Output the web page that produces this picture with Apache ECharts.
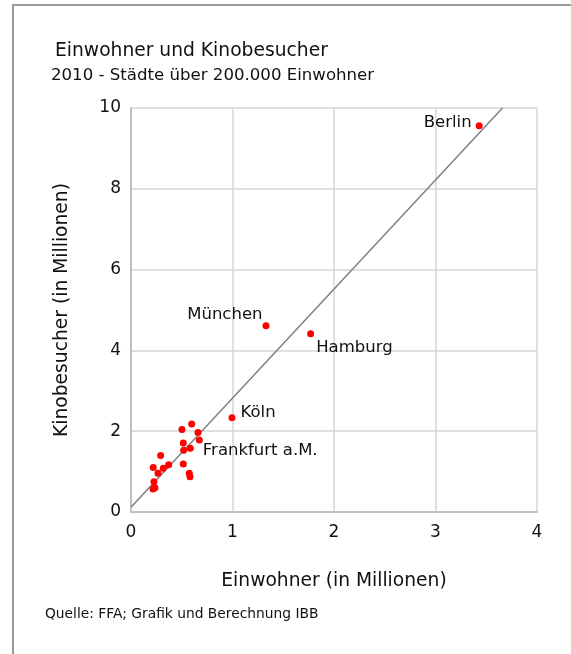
<!DOCTYPE html>
<html>
<head>
<meta charset="utf-8">
<script src="https://cdn.jsdelivr.net/npm/echarts@6/dist/echarts.min.js"></script>
<style>
html,body{margin:0;padding:0;background:#fff;}
#chart{width:571px;height:654px;}
</style>
</head>
<body>
<div id="chart"></div>
<script>
// Data
var cityNames = ['Berlin', 'Hamburg', 'München', 'Köln', 'Frankfurt a.M.'];
var cityPopulation = [3.43, 1.77, 1.33, 0.995, 0.673];
var cityVisitors = [9.56, 4.41, 4.61, 2.33, 1.78];

var otherPopulation = [0.598, 0.502, 0.660, 0.515, 0.519, 0.584, 0.292, 0.515, 0.371, 0.219, 0.318, 0.266, 0.574, 0.581, 0.226, 0.236, 0.217];
var otherVisitors   = [2.18, 2.04, 1.97, 1.71, 1.53, 1.58, 1.40, 1.19, 1.17, 1.10, 1.08, 0.96, 0.96, 0.87, 0.75, 0.60, 0.57];

var trendX = [0, 3.66];
var trendY = [0.12, 10];

var xTicks = [0, 1, 2, 3, 4];
var yTicks = [0, 2, 4, 6, 8, 10];

// Label styling per city
var labelStyle = {
  'Berlin': {position: 'left', distance: 4, offset: [0, -3]},
  'Hamburg': {position: 'right', distance: 2, offset: [0, 14]},
  'München': {position: 'left', distance: 0, offset: [0, -11]},
  'Köln': {position: 'right', distance: 5, offset: [0, -5]},
  'Frankfurt a.M.': {position: 'right', distance: 0, offset: [0, 11]}
};

var FONT = 'DejaVu Sans, sans-serif';
var scatterData = [];
for (var i = 0; i < cityNames.length; i++) {
  var ls = labelStyle[cityNames[i]];
  scatterData.push({
    name: cityNames[i],
    value: [cityPopulation[i], cityVisitors[i]],
    label: {show: true, formatter: '{b}', position: ls.position, distance: ls.distance, offset: ls.offset,
      fontSize: 16.5, color: '#111', fontFamily: FONT}
  });
}
for (var j = 0; j < otherPopulation.length; j++) {
  scatterData.push({value: [otherPopulation[j], otherVisitors[j]]});
}
var trendData = trendX.map(function (x, k) { return [x, trendY[k]]; });

var chart = echarts.init(document.getElementById('chart'), null, {renderer: 'canvas'});
chart.setOption({
  animation: false,
  backgroundColor: '#fff',
  textStyle: {fontFamily: FONT},
  graphic: [
    {type: 'rect', shape: {x: 13, y: 5, width: 600, height: 700},
     style: {fill: 'none', stroke: '#9a9a9a', lineWidth: 2}, silent: true},
    {type: 'text', left: 55, top: 42, style: {text: 'Einwohner und Kinobesucher', fontSize: 18.7, fill: '#111', fontFamily: FONT}},
    {type: 'text', left: 51, top: 67, style: {text: '2010 - Städte über 200.000 Einwohner', fontSize: 16.6, fill: '#111', fontFamily: FONT}},
    {type: 'text', left: 45, top: 607, style: {text: 'Quelle: FFA; Grafik und Berechnung IBB', fontSize: 13.8, fill: '#111', fontFamily: FONT}}
  ],
  grid: {left: 131, right: 34, top: 108, bottom: 142, containLabel: false},
  xAxis: {
    type: 'value', min: xTicks[0], max: xTicks[xTicks.length - 1], interval: 1,
    name: 'Einwohner (in Millionen)', nameLocation: 'middle', nameGap: 60,
    nameTextStyle: {fontSize: 18.7, color: '#111', fontFamily: FONT},
    axisLine: {show: true, lineStyle: {color: '#c0c0c0', width: 2}},
    axisTick: {show: false},
    axisLabel: {fontSize: 17, color: '#111', margin: 12, fontFamily: FONT},
    splitLine: {show: true, lineStyle: {color: '#d6d6d6', width: 1.5}}
  },
  yAxis: {
    type: 'value', min: yTicks[0], max: yTicks[yTicks.length - 1], interval: 2,
    name: 'Kinobesucher (in Millionen)', nameLocation: 'middle', nameGap: 59,
    nameTextStyle: {fontSize: 18.7, color: '#111', fontFamily: FONT},
    axisLine: {show: true, lineStyle: {color: '#c0c0c0', width: 2}},
    axisTick: {show: false},
    axisLabel: {fontSize: 17, color: '#111', margin: 10, fontFamily: FONT},
    splitLine: {show: true, lineStyle: {color: '#d6d6d6', width: 1.5}}
  },
  series: [
    {type: 'line', data: trendData, showSymbol: false, symbol: 'none', silent: true,
     lineStyle: {color: '#808080', width: 1.5}, z: 2},
    {type: 'scatter', data: scatterData, symbolSize: 7, itemStyle: {color: '#ff0000', opacity: 1}, z: 3}
  ]
});
</script>
</body>
</html>
